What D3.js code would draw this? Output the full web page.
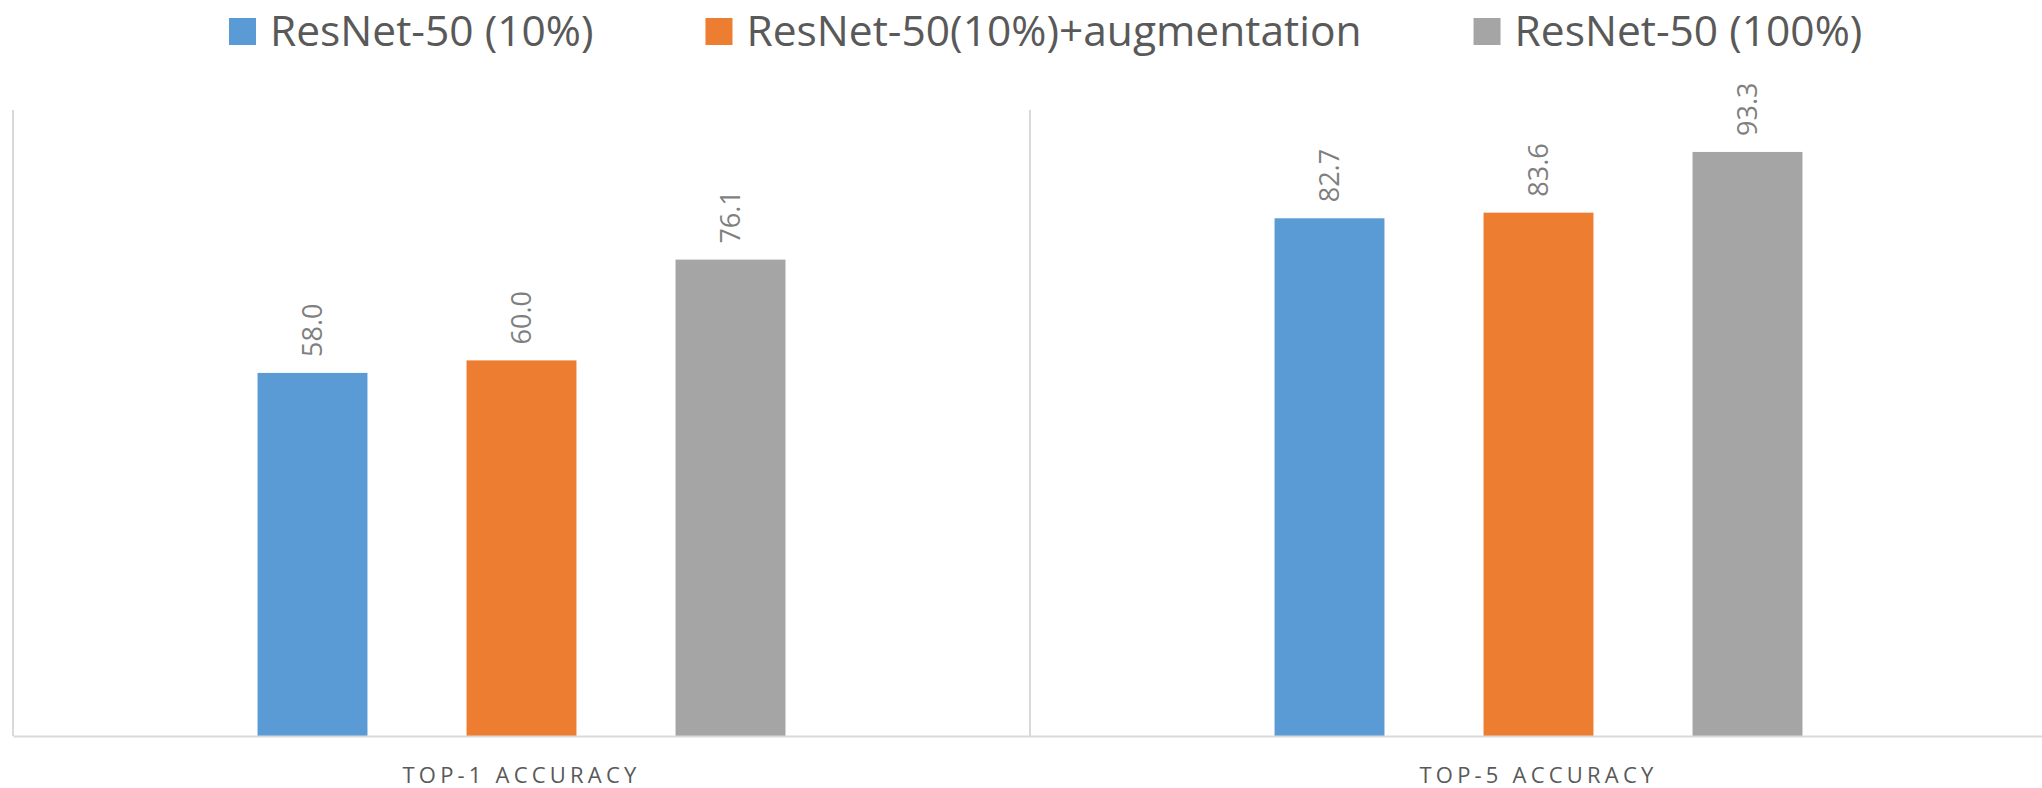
<!DOCTYPE html>
<html>
<head>
<meta charset="utf-8">
<script src="https://cdn.jsdelivr.net/npm/d3@7"></script>
<style>
  html, body { margin: 0; padding: 0; background: #fff; }
  svg { display: block; }
  text { font-family: "Open Sans", "Noto Sans", sans-serif; }
</style>
</head>
<body>
<svg id="chart" width="2042" height="788"></svg>
<script>
// Accuracy (%) of each model variant on two metrics
const categories = ["TOP-1 ACCURACY", "TOP-5 ACCURACY"];
const seriesNames = ["ResNet-50 (10%)", "ResNet-50(10%)+augmentation", "ResNet-50 (100%)"];
const resnet10 = [58.0, 82.7];
const resnet10Aug = [60.0, 83.6];
const resnet100 = [76.1, 93.3];
const seriesColors = ["#5B9BD5", "#ED7D31", "#A5A5A5"];

const seriesValues = [resnet10, resnet10Aug, resnet100];

const svg = d3.select("#chart");
const plot = { left: 13, right: 2047, top: 110, bottom: 736 };

const x0 = d3.scaleBand()
  .domain(categories)
  .range([plot.left, plot.right])
  .padding(0);

const x1 = d3.scaleBand()
  .domain(seriesNames)
  .range([0, x0.bandwidth()])
  .paddingInner(0.474)
  .paddingOuter(1.17);

const y = d3.scaleLinear()
  .domain([0, 100])
  .range([plot.bottom, plot.top]);

// Category separators (vertical lines at band edges)
const edges = categories.map(c => x0(c));
svg.append("g")
  .selectAll("line")
  .data(edges)
  .join("line")
  .attr("x1", d => d).attr("x2", d => d)
  .attr("y1", plot.top).attr("y2", plot.bottom)
  .attr("stroke", "#D9D9D9")
  .attr("stroke-width", 2);

// Bars
const rows = [];
categories.forEach((c, ci) => {
  seriesNames.forEach((s, si) => {
    rows.push({ cat: c, series: s, value: seriesValues[si][ci], color: seriesColors[si] });
  });
});

svg.append("g")
  .selectAll("rect")
  .data(rows)
  .join("rect")
  .attr("x", d => x0(d.cat) + x1(d.series))
  .attr("y", d => y(d.value))
  .attr("width", x1.bandwidth())
  .attr("height", d => y(0) - y(d.value))
  .attr("fill", d => d.color);

// Value labels, rotated, above each bar
svg.append("g")
  .selectAll("text")
  .data(rows)
  .join("text")
  .attr("transform", d => {
    const cx = x0(d.cat) + x1(d.series) + x1.bandwidth() / 2;
    const cy = y(d.value) - 16;
    return `translate(${cx},${cy}) rotate(-90)`;
  })
  .attr("dy", "0.36em")
  .attr("text-anchor", "start")
  .attr("font-size", 27)
  .attr("fill", "#7F7F7F")
  .text(d => d.value.toFixed(1));

// Baseline (category axis)
const xAxis = d3.axisBottom(x0).tickSize(0).tickPadding(0);
const axisG = svg.append("g")
  .attr("transform", `translate(0,${plot.bottom})`)
  .call(xAxis);
axisG.select(".domain")
  .attr("stroke", "#D9D9D9")
  .attr("stroke-width", 2);
axisG.selectAll(".tick text")
  .attr("y", 47)
  .attr("dy", 0)
  .attr("font-size", 22)
  .attr("font-family", "'Open Sans', sans-serif")
  .attr("letter-spacing", 4.2)
  .attr("fill", "#595959");

// Legend
const legend = svg.append("g");
const sq = 27, gapText = 14, gapItem = 112, fs = 42.5;
let cursor = 229;
seriesNames.forEach((name, i) => {
  const g = legend.append("g").attr("transform", `translate(${cursor},0)`);
  g.append("rect")
    .attr("x", 0).attr("y", 18)
    .attr("width", sq).attr("height", sq)
    .attr("fill", seriesColors[i]);
  const t = g.append("text")
    .attr("x", sq + gapText)
    .attr("y", 46)
    .attr("font-size", fs)
    .attr("fill", "#595959")
    .text(name);
  cursor += sq + gapText + t.node().getComputedTextLength() + gapItem;
});
</script>
</body>
</html>
